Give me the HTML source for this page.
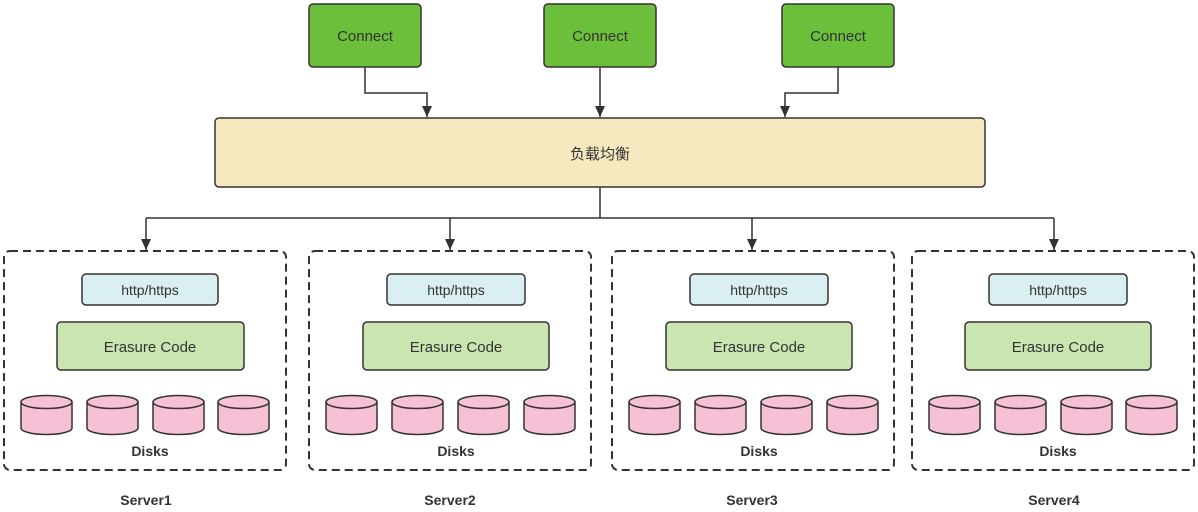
<!DOCTYPE html>
<html><head><meta charset="utf-8"><style>
html,body{margin:0;padding:0;background:#fff;}
svg{display:block;}
text{font-family:"Liberation Sans","Noto Sans CJK SC",sans-serif;}
</style></head><body>
<svg width="1198" height="512" viewBox="0 0 1198 512" xmlns="http://www.w3.org/2000/svg">
<defs>
<marker id="a" markerWidth="12" markerHeight="10" refX="11" refY="5" orient="auto" markerUnits="userSpaceOnUse">
<path d="M0,0 L11,5 L0,10 Z" fill="#333"/>
</marker>
<g id="cyl">
<path d="M0,7 L0,33 A25.5,6.5 0 0 0 51,33 L51,7" fill="#f6c0d6" stroke="#333" stroke-width="1.5"/>
<ellipse cx="25.5" cy="7" rx="25.5" ry="6.5" fill="#f6c0d6" stroke="#333" stroke-width="1.5"/>
</g>
</defs>
<rect x="309" y="4" width="112" height="63" rx="4" fill="#6bbf3a" stroke="#333" stroke-width="1.5"/>
<text x="365" y="41" font-size="15" fill="#333" text-anchor="middle">Connect</text>
<rect x="544" y="4" width="112" height="63" rx="4" fill="#6bbf3a" stroke="#333" stroke-width="1.5"/>
<text x="600" y="41" font-size="15" fill="#333" text-anchor="middle">Connect</text>
<rect x="782" y="4" width="112" height="63" rx="4" fill="#6bbf3a" stroke="#333" stroke-width="1.5"/>
<text x="838" y="41" font-size="15" fill="#333" text-anchor="middle">Connect</text>
<g fill="none" stroke="#333" stroke-width="1.5">
<path d="M365,67 V93 H427 V117" marker-end="url(#a)"/>
<path d="M600,67 V117" marker-end="url(#a)"/>
<path d="M838,67 V93 H785 V117" marker-end="url(#a)"/>
<path d="M600,187 V218"/>
<path d="M146,218 H1054"/>
<path d="M146,218 V250" marker-end="url(#a)"/>
<path d="M450,218 V250" marker-end="url(#a)"/>
<path d="M752,218 V250" marker-end="url(#a)"/>
<path d="M1054,218 V250" marker-end="url(#a)"/>
</g>
<rect x="215" y="118" width="770" height="69" rx="4" fill="#f7e9bf" stroke="#333" stroke-width="1.5"/>
<text x="600" y="159" font-size="15" fill="#333" text-anchor="middle">负载均衡</text>
<g transform="translate(4,251)">
<rect x="0" y="0" width="282" height="219" rx="6" fill="none" stroke="#333" stroke-width="2" stroke-dasharray="8,5"/>
<rect x="78" y="23" width="136" height="31" rx="4" fill="#d9eff2" stroke="#333" stroke-width="1.5"/>
<text x="146" y="44" font-size="14" fill="#333" text-anchor="middle">http/https</text>
<rect x="53" y="71" width="187" height="48" rx="4" fill="#c9e6b0" stroke="#333" stroke-width="1.5"/>
<text x="146" y="101" font-size="15" fill="#333" text-anchor="middle">Erasure Code</text>
<use href="#cyl" x="17" y="144"/><use href="#cyl" x="83" y="144"/><use href="#cyl" x="149" y="144"/><use href="#cyl" x="214" y="144"/>
<text x="146" y="205" font-size="14" font-weight="bold" fill="#333" text-anchor="middle">Disks</text>
<text x="142" y="254" font-size="14" font-weight="bold" fill="#333" text-anchor="middle">Server1</text>
</g>
<g transform="translate(309,251)">
<rect x="0" y="0" width="282" height="219" rx="6" fill="none" stroke="#333" stroke-width="2" stroke-dasharray="8,5"/>
<rect x="78" y="23" width="138" height="31" rx="4" fill="#d9eff2" stroke="#333" stroke-width="1.5"/>
<text x="147" y="44" font-size="14" fill="#333" text-anchor="middle">http/https</text>
<rect x="54" y="71" width="186" height="48" rx="4" fill="#c9e6b0" stroke="#333" stroke-width="1.5"/>
<text x="147" y="101" font-size="15" fill="#333" text-anchor="middle">Erasure Code</text>
<use href="#cyl" x="17" y="144"/><use href="#cyl" x="83" y="144"/><use href="#cyl" x="149" y="144"/><use href="#cyl" x="215" y="144"/>
<text x="147" y="205" font-size="14" font-weight="bold" fill="#333" text-anchor="middle">Disks</text>
<text x="141" y="254" font-size="14" font-weight="bold" fill="#333" text-anchor="middle">Server2</text>
</g>
<g transform="translate(612,251)">
<rect x="0" y="0" width="282" height="219" rx="6" fill="none" stroke="#333" stroke-width="2" stroke-dasharray="8,5"/>
<rect x="78" y="23" width="138" height="31" rx="4" fill="#d9eff2" stroke="#333" stroke-width="1.5"/>
<text x="147" y="44" font-size="14" fill="#333" text-anchor="middle">http/https</text>
<rect x="54" y="71" width="186" height="48" rx="4" fill="#c9e6b0" stroke="#333" stroke-width="1.5"/>
<text x="147" y="101" font-size="15" fill="#333" text-anchor="middle">Erasure Code</text>
<use href="#cyl" x="17" y="144"/><use href="#cyl" x="83" y="144"/><use href="#cyl" x="149" y="144"/><use href="#cyl" x="215" y="144"/>
<text x="147" y="205" font-size="14" font-weight="bold" fill="#333" text-anchor="middle">Disks</text>
<text x="140" y="254" font-size="14" font-weight="bold" fill="#333" text-anchor="middle">Server3</text>
</g>
<g transform="translate(912,251)">
<rect x="0" y="0" width="282" height="219" rx="6" fill="none" stroke="#333" stroke-width="2" stroke-dasharray="8,5"/>
<rect x="77" y="23" width="138" height="31" rx="4" fill="#d9eff2" stroke="#333" stroke-width="1.5"/>
<text x="146" y="44" font-size="14" fill="#333" text-anchor="middle">http/https</text>
<rect x="53" y="71" width="186" height="48" rx="4" fill="#c9e6b0" stroke="#333" stroke-width="1.5"/>
<text x="146" y="101" font-size="15" fill="#333" text-anchor="middle">Erasure Code</text>
<use href="#cyl" x="17" y="144"/><use href="#cyl" x="83" y="144"/><use href="#cyl" x="149" y="144"/><use href="#cyl" x="214" y="144"/>
<text x="146" y="205" font-size="14" font-weight="bold" fill="#333" text-anchor="middle">Disks</text>
<text x="142" y="254" font-size="14" font-weight="bold" fill="#333" text-anchor="middle">Server4</text>
</g>
</svg>
</body></html>
